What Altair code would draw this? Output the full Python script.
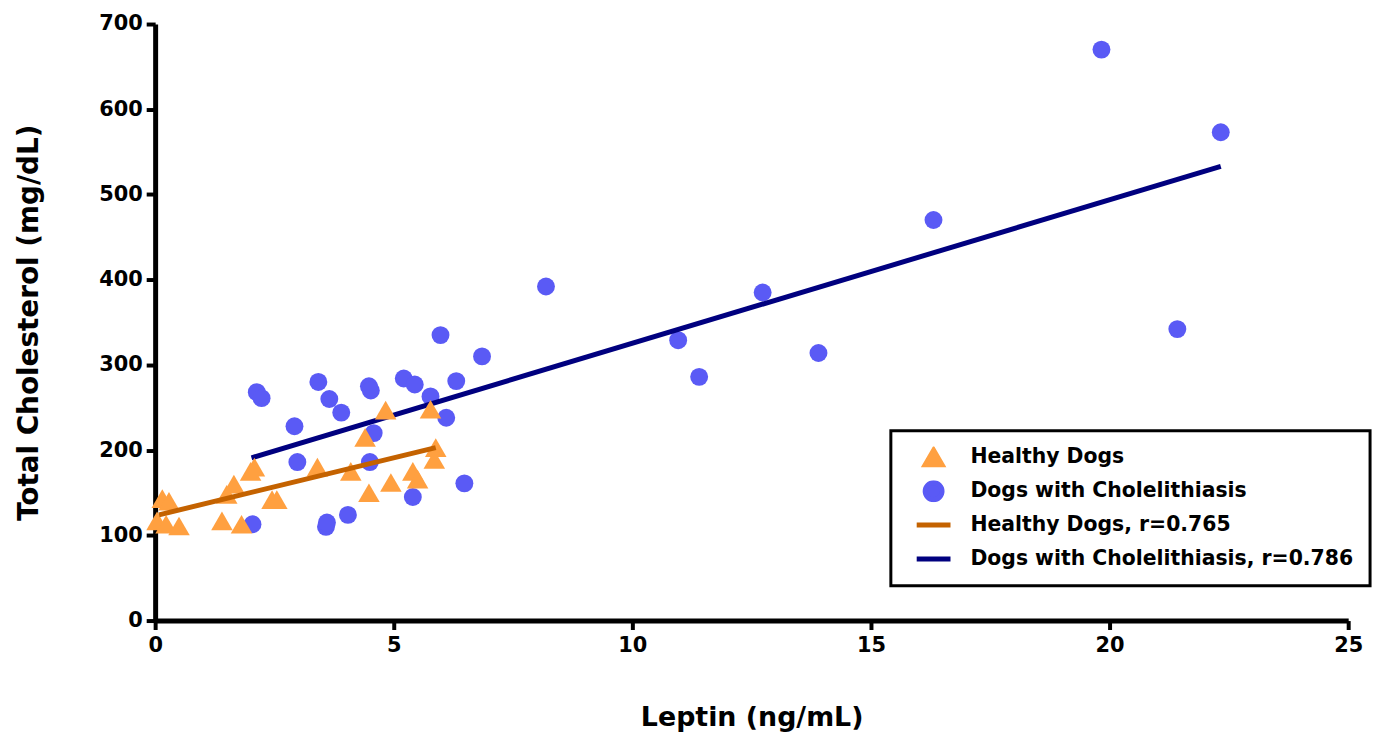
import altair as alt
import pandas as pd

# ---- data ----
healthy_x = [0.15, 0.29, 0.04, 0.23, 0.50, 1.40, 1.50, 1.65, 1.81, 2.00, 2.08, 2.45, 2.55,
             3.40, 4.10, 4.40, 4.48, 4.83, 4.94, 5.40, 5.50, 5.77, 5.85, 5.88]
healthy_y = [143, 140, 117, 113, 111, 117, 148, 160, 113, 175, 180, 142, 142,
             180, 175, 215, 150, 247, 162, 175, 166, 248, 189, 203]

chol_x = [2.04, 2.13, 2.23, 2.92, 2.98, 3.42, 3.65, 3.90, 3.58, 3.60, 4.04, 4.48, 4.52,
          4.58, 4.50, 5.21, 5.44, 5.40, 5.77, 5.98, 6.10, 6.31, 6.48, 6.85, 8.19,
          10.96, 11.40, 12.73, 13.90, 16.31, 19.83, 21.42, 22.33]
chol_y = [113, 268, 261, 228, 186, 280, 260, 244, 110, 115, 124, 275, 270,
          220, 186, 284, 277, 145, 263, 335, 238, 281, 161, 310, 392,
          329, 286, 385, 314, 470, 670, 342, 573]

healthy_fit_x = [0.08, 5.88]
healthy_fit_y = [124, 203]
chol_fit_x = [2.02, 22.33]
chol_fit_y = [191, 533]

series = ["Healthy Dogs", "Dogs with Cholelithiasis",
          "Healthy Dogs, r=0.765", "Dogs with Cholelithiasis, r=0.786"]
colors = ["#FFA040", "#5A5AF5", "#C46200", "#00007F"]
shapes = ["triangle-up", "circle", "M-2,0L2,0", "M-2,0L2,0"]

x_ticks = [0, 5, 10, 15, 20, 25]
y_ticks = [0, 100, 200, 300, 400, 500, 600, 700]

# ---- tables ----
healthy_df = pd.DataFrame({"x": healthy_x, "y": healthy_y, "s": series[0]})
chol_df = pd.DataFrame({"x": chol_x, "y": chol_y, "s": series[1]})
hfit_df = pd.DataFrame({"x": healthy_fit_x, "y": healthy_fit_y, "s": series[2]})
cfit_df = pd.DataFrame({"x": chol_fit_x, "y": chol_fit_y, "s": series[3]})

FONT = "DejaVu Sans"

color_scale = alt.Scale(domain=series, range=colors)
shape_scale = alt.Scale(domain=series, range=shapes)

legend = alt.Legend(
    title=None, orient="none", legendX=740, legendY=409,
    labelFont=FONT, labelFontWeight="bold", labelFontSize=20.5, labelColor="black",
    labelLimit=800, labelOffset=26, symbolOffset=16, clipHeight=22,
    strokeColor="black", fillColor="white", padding=16, rowPadding=12,
    symbolSize=289, symbolStrokeWidth=5, symbolOpacity=1,
)

x_enc = alt.X("x:Q", scale=alt.Scale(domain=[0, 25], nice=False, zero=False),
              axis=alt.Axis(values=x_ticks, title="Leptin (ng/mL)", labelFlush=False,
                            titleX=600, titleY=98, titleBaseline="middle",
                            titleFontSize=27, labelPadding=5))
y_enc = alt.Y("y:Q", scale=alt.Scale(domain=[0, 700], nice=False, zero=False),
              axis=alt.Axis(values=y_ticks, title="Total Cholesterol (mg/dL)", labelFlush=False,
                            titleX=-126, titleY=300, titleAngle=-90,
                            titleAlign="center", titleBaseline="middle",
                            titleFontSize=28, labelPadding=4))

color_enc = alt.Color("s:N", scale=color_scale, legend=legend)
shape_enc = alt.Shape("s:N", scale=shape_scale, legend=legend)

chol_pts = alt.Chart(chol_df).mark_point(filled=True, opacity=1, size=324).encode(
    x=x_enc, y=y_enc, color=color_enc, shape=shape_enc)
chol_line = alt.Chart(cfit_df).mark_line(strokeWidth=5).encode(
    x=x_enc, y=y_enc, color=color_enc)
healthy_pts = alt.Chart(healthy_df).mark_point(filled=True, opacity=1, size=470).encode(
    x=x_enc, y=y_enc, color=color_enc, shape=shape_enc)
healthy_line = alt.Chart(hfit_df).mark_line(strokeWidth=5).encode(
    x=x_enc, y=y_enc, color=color_enc)

chart = alt.layer(chol_pts, chol_line, healthy_pts, healthy_line).properties(
    width=1200, height=600,
    padding={"left": 148, "top": 14, "right": 32, "bottom": 115},
    autosize=alt.AutoSizeParams(type="none"),
).configure_view(stroke=None).configure_axis(
    grid=False, domainColor="black", domainWidth=5,
    tickColor="black", tickWidth=4, tickSize=9,
    labelFont=FONT, labelFontWeight="bold", labelFontSize=21, labelColor="black",
    titleFont=FONT, titleFontWeight="bold", titleColor="black",
).configure_legend(strokeWidth=3)

chart.save("out.html", embed_options={"renderer": "svg", "actions": False})
